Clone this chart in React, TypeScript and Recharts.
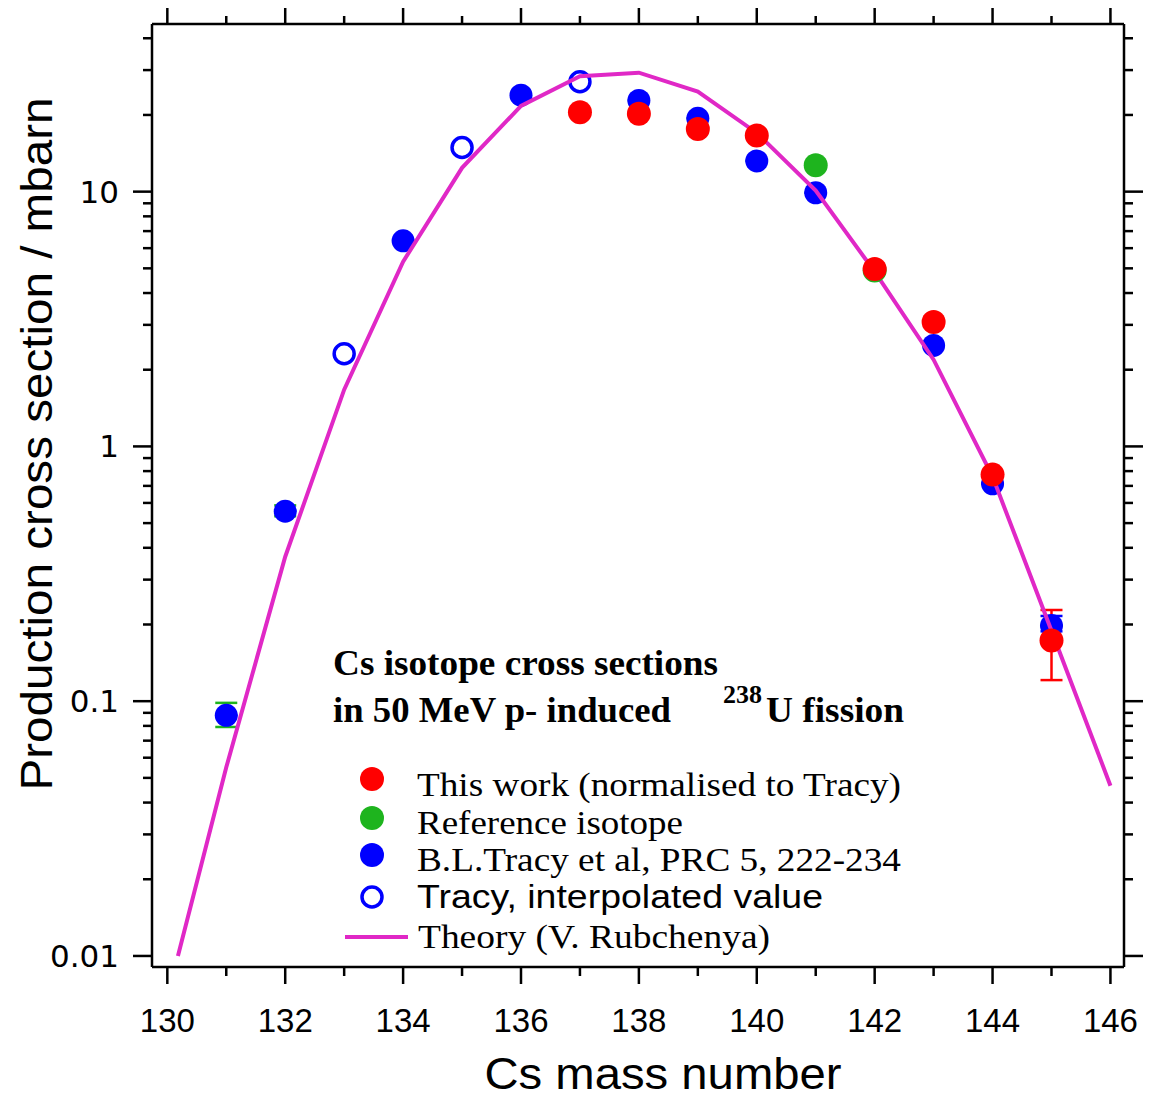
import React from 'react';
import { ScatterChart, Scatter, XAxis, YAxis, ErrorBar, Legend } from 'recharts';

// This work (normalised to Tracy)
const thisWorkMass = [137, 138, 139, 140, 142, 143, 144, 145];
const thisWorkValue = [20.5, 20.2, 17.6, 16.6, 4.97, 3.08, 0.775, 0.173];
const thisWorkErrLow = [0, 0, 0, 0, 0, 0, 0, 0.052];
const thisWorkErrHigh = [0, 0, 0, 0, 0, 0, 0, 0.055];

// Reference isotope
const refMass = [141, 142];
const refValue = [12.7, 4.9];

// B.L.Tracy et al, PRC 5, 222-234
const tracyMass = [131, 132, 134, 136, 138, 139, 140, 141, 143, 144, 145];
const tracyValue = [0.088, 0.557, 6.41, 23.9, 22.8, 19.4, 13.2, 9.9, 2.49, 0.713, 0.198];
const tracyGreenErrLow = [0.0088, 0.025, 0, 0, 0, 0, 0, 0, 0, 0, 0];
const tracyGreenErrHigh = [0.0105, 0.03, 0, 0, 0, 0, 0, 0, 0, 0, 0];
const tracyBlueErrLow = [0, 0, 0, 0, 0, 0, 0, 0, 0, 0, 0.01];
const tracyBlueErrHigh = [0, 0, 0, 0, 0, 0, 0, 0, 0, 0, 0.018];

// Tracy, interpolated value
const interpMass = [133, 135, 137];
const interpValue = [2.31, 14.9, 27.0];

// Theory (V. Rubchenya)
const theoryMass = [130.18, 131, 132, 133, 134, 135, 136, 137, 138, 139, 140, 141, 142, 143, 144, 145, 146];
const theoryValue = [0.01, 0.055, 0.369, 1.67, 5.31, 12.4, 21.7, 28.4, 29.3, 24.7, 17.0, 10.1, 4.85, 2.19, 0.761, 0.189, 0.0466];

const xTicks = [130, 131, 132, 133, 134, 135, 136, 137, 138, 139, 140, 141, 142, 143, 144, 145, 146];
const xLabelTicks = [130, 132, 134, 136, 138, 140, 142, 144, 146];
const yTicks = [
  0.01, 0.02, 0.03, 0.04, 0.05, 0.06, 0.07, 0.08, 0.09,
  0.1, 0.2, 0.3, 0.4, 0.5, 0.6, 0.7, 0.8, 0.9,
  1, 2, 3, 4, 5, 6, 7, 8, 9,
  10, 20, 30, 40,
];
const yLabelTicks = [0.01, 0.1, 1, 10];

const X_DOMAIN = [129.74, 146.23];
const Y_DOMAIN = [0.00905, 45.5];

const RED = '#ff0000';
const GREEN = '#1eb41e';
const BLUE = '#0000ff';
const MAGENTA = '#e028c6';

const SERIF = '"Liberation Serif", "Times New Roman", Times, serif';
const SANS = '"Liberation Sans", Arial, Helvetica, sans-serif';
const TICK_FONT = '"DejaVu Sans", Verdana, sans-serif';

const W = 1149;
const H = 1093;

const thisWorkData = thisWorkMass.map((x, i) => ({
  x,
  y: thisWorkValue[i],
  err: [thisWorkErrLow[i], thisWorkErrHigh[i]],
}));
const refData = refMass.map((x, i) => ({ x, y: refValue[i] }));
const tracyData = tracyMass.map((x, i) => ({
  x,
  y: tracyValue[i],
  errG: [tracyGreenErrLow[i], tracyGreenErrHigh[i]],
  errB: [tracyBlueErrLow[i], tracyBlueErrHigh[i]],
}));
const interpData = interpMass.map((x, i) => ({ x, y: interpValue[i] }));
const theoryData = theoryMass.map((x, i) => ({ x, y: theoryValue[i] }));

const filledDot = (color: string, r: number) => (props: any) =>
  <circle cx={props.cx} cy={props.cy} r={r} fill={color} />;

const openDot = (props: any) =>
  <circle cx={props.cx} cy={props.cy} r={10} fill="none" stroke={BLUE} strokeWidth={3.5} />;

const noDot = () => <g />;

function BottomTick(props: any) {
  const { x, y, payload } = props;
  const major = xLabelTicks.includes(payload.value);
  return (
    <g>
      <line x1={x} y1={y} x2={x} y2={y + (major ? 17 : 9)} stroke="#000" strokeWidth={2.5} />
      {major && (
        <text x={x} y={y + 65} textAnchor="middle" fontFamily={SANS} fontSize={33} fill="#000">
          {payload.value}
        </text>
      )}
    </g>
  );
}

function TopTick(props: any) {
  const { x, y, payload } = props;
  const major = xLabelTicks.includes(payload.value);
  return <line x1={x} y1={y} x2={x} y2={y - (major ? 19 : 8)} stroke="#000" strokeWidth={2.5} />;
}

function LeftTick(props: any) {
  const { x, y, payload } = props;
  const major = yLabelTicks.includes(payload.value);
  return (
    <g>
      <line x1={x} y1={y} x2={x - (major ? 19 : 9)} y2={y} stroke="#000" strokeWidth={2.5} />
      {major && (
        <text x={x - 33} y={y + 11} textAnchor="end" fontFamily={TICK_FONT} fontSize={31} fill="#000">
          {String(payload.value)}
        </text>
      )}
    </g>
  );
}

function RightTick(props: any) {
  const { x, y, payload } = props;
  const major = yLabelTicks.includes(payload.value);
  return <line x1={x} y1={y} x2={x + (major ? 19 : 9)} y2={y} stroke="#000" strokeWidth={2.5} />;
}

const yTitle = () => (
  <text
    x={44}
    y={436}
    transform="rotate(-90, 44, 436)"
    textAnchor="middle"
    fontFamily={SANS}
    fontSize={45}
    textLength={693}
    lengthAdjust="spacingAndGlyphs"
    fill="#000"
  >
    Production cross section / mbarn
  </text>
);

const xTitle = () => (
  <text
    x={655}
    y={1081}
    textAnchor="middle"
    fontFamily={SANS}
    fontSize={45}
    textLength={357}
    lengthAdjust="spacingAndGlyphs"
    fill="#000"
  >
    Cs mass number
  </text>
);

function Annotation() {
  const item = { fontFamily: SERIF, fontSize: 34, fill: '#000' };
  const head = { fontFamily: SERIF, fontSize: 36, fontWeight: 700, fill: '#000' };
  return (
    <svg width={600} height={330} style={{ display: 'block', overflow: 'visible' }}>
      <text x={13} y={35} {...head} textLength={385} lengthAdjust="spacingAndGlyphs">Cs isotope cross sections</text>
      <text x={13} y={82} {...head} textLength={338} lengthAdjust="spacingAndGlyphs">in 50 MeV p- induced</text>
      <text x={403} y={63} {...head} fontSize={25} textLength={39} lengthAdjust="spacingAndGlyphs">238</text>
      <text x={446} y={82} {...head} textLength={138} lengthAdjust="spacingAndGlyphs">U fission</text>

      <circle cx={52} cy={139} r={12} fill={RED} />
      <text x={97} y={156} {...item} textLength={484} lengthAdjust="spacingAndGlyphs">This work (normalised to Tracy)</text>
      <circle cx={52} cy={178} r={12} fill={GREEN} />
      <text x={97} y={194} {...item} textLength={266} lengthAdjust="spacingAndGlyphs">Reference isotope</text>
      <circle cx={52} cy={215} r={12} fill={BLUE} />
      <text x={97} y={231} {...item} textLength={484} lengthAdjust="spacingAndGlyphs">B.L.Tracy et al, PRC 5, 222-234</text>
      <circle cx={52} cy={257} r={10} fill="none" stroke={BLUE} strokeWidth={3.5} />
      <text x={97} y={268} fontFamily={SANS} fontSize={34} fill="#000" textLength={406} lengthAdjust="spacingAndGlyphs">Tracy, interpolated value</text>
      <line x1={25} y1={297} x2={88} y2={297} stroke={MAGENTA} strokeWidth={4} />
      <text x={98} y={308} {...item} textLength={352} lengthAdjust="spacingAndGlyphs">Theory (V. Rubchenya)</text>
    </svg>
  );
}

export default function App() {
  return (
    <ScatterChart width={W} height={H} margin={{ top: 6, right: 13, bottom: 4, left: 64 }}>
      <XAxis
        xAxisId="b"
        dataKey="x"
        type="number"
        domain={X_DOMAIN}
        allowDataOverflow
        ticks={xTicks}
        interval={0}
        tick={<BottomTick />}
        tickLine={false}
        tickSize={0}
        tickMargin={0}
        height={130}
        axisLine={{ stroke: '#000', strokeWidth: 2.5 }}
        label={xTitle}
      />
      <XAxis
        xAxisId="t"
        orientation="top"
        dataKey="x"
        type="number"
        domain={X_DOMAIN}
        allowDataOverflow
        ticks={xTicks}
        interval={0}
        tick={<TopTick />}
        tickLine={false}
        tickSize={0}
        tickMargin={0}
        height={10}
        axisLine={{ stroke: '#000', strokeWidth: 2.5 }}
      />
      <YAxis
        yAxisId="l"
        dataKey="y"
        type="number"
        scale="log"
        domain={Y_DOMAIN}
        allowDataOverflow
        ticks={yTicks}
        interval={0}
        tick={<LeftTick />}
        tickLine={false}
        tickSize={0}
        tickMargin={0}
        width={80}
        axisLine={{ stroke: '#000', strokeWidth: 2.5 }}
        label={yTitle}
      />
      <YAxis
        yAxisId="r"
        orientation="right"
        dataKey="y"
        type="number"
        scale="log"
        domain={Y_DOMAIN}
        allowDataOverflow
        ticks={yTicks}
        interval={0}
        tick={<RightTick />}
        tickLine={false}
        tickSize={0}
        tickMargin={0}
        width={20}
        axisLine={{ stroke: '#000', strokeWidth: 2.5 }}
      />

      <Scatter xAxisId="t" yAxisId="r" data={theoryData} shape={noDot} isAnimationActive={false} legendType="none" />

      <Scatter name="B.L.Tracy et al, PRC 5, 222-234" xAxisId="b" yAxisId="l" data={tracyData} shape={filledDot(BLUE, 11.5)} isAnimationActive={false}>
        <ErrorBar dataKey="errG" direction="y" width={11} stroke={GREEN} strokeWidth={2.5} isAnimationActive={false} />
        <ErrorBar dataKey="errB" direction="y" width={11} stroke={BLUE} strokeWidth={2.5} isAnimationActive={false} />
      </Scatter>
      <Scatter name="Tracy, interpolated value" xAxisId="b" yAxisId="l" data={interpData} shape={openDot} isAnimationActive={false} />
      <Scatter
        name="Theory (V. Rubchenya)"
        xAxisId="b"
        yAxisId="l"
        data={theoryData}
        shape={noDot}
        line={{ stroke: MAGENTA, strokeWidth: 4 }}
        isAnimationActive={false}
      />
      <Scatter name="Reference isotope" xAxisId="b" yAxisId="l" data={refData} shape={filledDot(GREEN, 12)} isAnimationActive={false} />
      <Scatter name="This work (normalised to Tracy)" xAxisId="b" yAxisId="l" data={thisWorkData} shape={filledDot(RED, 12)} isAnimationActive={false}>
        <ErrorBar dataKey="err" direction="y" width={11} stroke={RED} strokeWidth={2.5} isAnimationActive={false} />
      </Scatter>

      <Legend
        layout="vertical"
        align="center"
        verticalAlign="middle"
        width={600}
        height={330}
        wrapperStyle={{ left: 312, top: 632, width: 600, height: 330 }}
        content={() => <Annotation />}
      />
    </ScatterChart>
  );
}
